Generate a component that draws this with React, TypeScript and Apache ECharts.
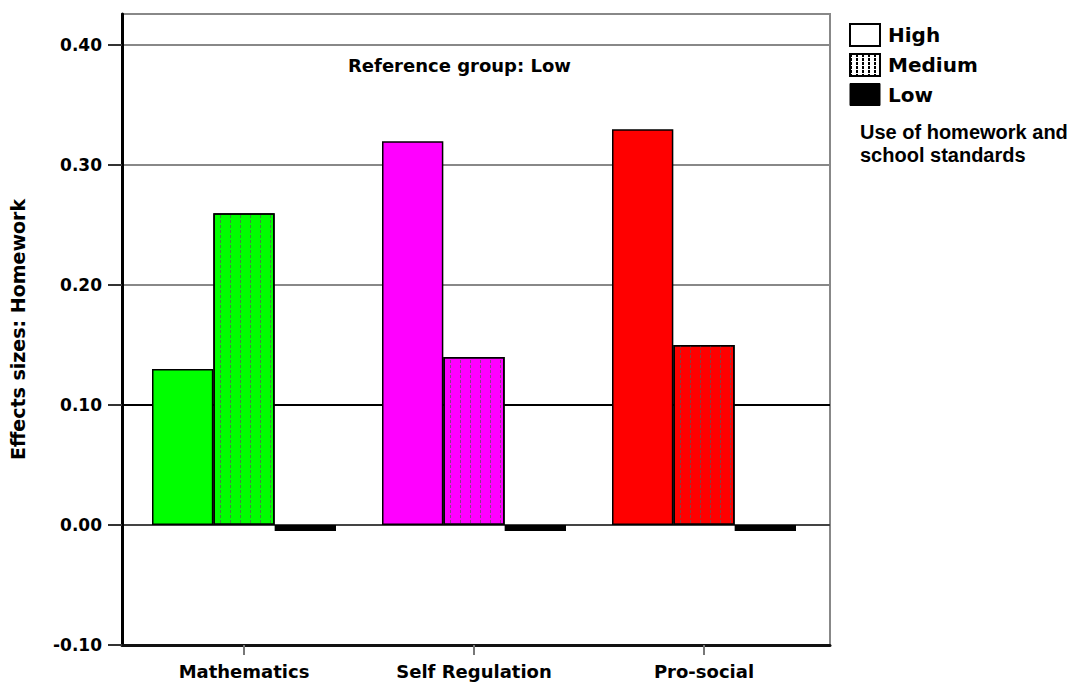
import React, { useEffect, useRef } from "react";
import * as echarts from "echarts";

const categories = ["Mathematics", "Self Regulation", "Pro-social"];
const highValues = [0.13, 0.32, 0.33];
const mediumValues = [0.26, 0.14, 0.15];
const lowValues = [-0.005, -0.005, -0.005];
const categoryColors = ["#00ff00", "#ff00ff", "#ff0000"];
const yTicks = [-0.1, 0, 0.1, 0.2, 0.3, 0.4];
const legendNames = ["High", "Medium", "Low"];
const yMin = -0.1;
const yMax = 0.426;

const bitmapFont = "DejaVu Sans";

const mediumDecal = {
  symbol: "rect",
  symbolSize: 1,
  color: "rgba(90,90,90,0.75)",
  dashArrayX: [1, 9],
  dashArrayY: [3, 2],
  rotation: 0,
};

export default function App() {
  const ref = useRef<HTMLDivElement>(null);
  useEffect(() => {
    if (!ref.current) return;
    const chart = echarts.init(ref.current, null, { renderer: "svg" });
    const isTick = (v: number) => yTicks.some((t) => Math.abs(t - v) < 1e-6);
    chart.setOption({
      animation: false,
      backgroundColor: "#fff",
      title: {
        text: "Reference group: Low",
        left: 348,
        top: 56,
        padding: 0,
        textStyle: { fontFamily: bitmapFont, fontWeight: "bold", fontSize: 18, color: "#000" },
      },
      legend: {
        orient: "vertical",
        left: 849,
        top: 23,
        padding: 0,
        itemWidth: 30,
        itemHeight: 22,
        itemGap: 6,
        icon: "rect",
        textStyle: {
          fontFamily: bitmapFont,
          fontWeight: "bold",
          fontSize: 20,
          color: "#000",
          padding: [0, 0, 0, 3],
        },
        data: [
          { name: legendNames[0], itemStyle: { color: "#fff", borderColor: "#000", borderWidth: 2 } },
          {
            name: legendNames[1],
            itemStyle: {
              color: "#fff",
              borderColor: "#000",
              borderWidth: 2,
              decal: { symbol: "rect", symbolSize: 1, color: "#000", dashArrayX: [2, 4], dashArrayY: [3, 1] },
            },
          },
          { name: legendNames[2], itemStyle: { color: "#000", borderColor: "#000", borderWidth: 1 } },
        ],
      },
      graphic: [
        {
          type: "text",
          left: 860,
          top: 120,
          style: {
            text: "Use of homework and\nschool standards",
            font: "bold 20px 'Liberation Sans', Arial, sans-serif",
            lineHeight: 23,
            fill: "#000",
          },
        },
      ],
      grid: [
        { left: 117, right: 253, top: 14, bottom: 37, show: true, borderColor: "#888", borderWidth: 2, backgroundColor: "#fff" },
        { left: 129, width: 690, top: 14, bottom: 37 },
      ],
      xAxis: [
        {
          type: "category",
          gridIndex: 0,
          data: categories,
          axisLine: { show: true, onZero: false, lineStyle: { color: "#111", width: 3 } },
          axisTick: { show: false },
          axisLabel: { show: false },
          splitLine: { show: false },
        },
        {
          type: "category",
          gridIndex: 1,
          data: categories,
          axisLine: { show: false, onZero: false },
          axisTick: { show: true, alignWithLabel: true, length: 10, lineStyle: { color: "#777", width: 2 } },
          axisLabel: {
            margin: 17,
            fontFamily: bitmapFont,
            fontWeight: "bold",
            fontSize: 18,
            color: "#000",
          },
        },
      ],
      yAxis: [
        {
          type: "value",
          gridIndex: 0,
          min: yMin,
          max: yMax,
          interval: 0.1,
          name: "Effects sizes: Homework",
          nameLocation: "middle",
          nameGap: 95,
          nameTextStyle: { fontFamily: bitmapFont, fontWeight: "bold", fontSize: 19, color: "#000" },
          axisLine: { show: true, lineStyle: { color: "#000", width: 3 } },
          axisTick: { show: true, length: 14, customValues: yTicks, lineStyle: { color: "#333", width: 2 } },
          axisLabel: {
            margin: 20,
            customValues: yTicks,
            formatter: (v: number) => (isTick(v) ? v.toFixed(2) : ""),
            fontFamily: bitmapFont,
            fontWeight: "bold",
            fontSize: 17,
            color: "#000",
          },
          splitLine: {
            show: true,
            lineStyle: {
              width: 2,
              color: ["#000", "#444", "#000", "#888", "#888", "#888", "#888"],
            },
          },
        },
        {
          type: "value",
          gridIndex: 1,
          min: yMin,
          max: yMax,
          interval: 0.1,
          show: false,
        },
      ],
      series: [
        {
          name: legendNames[0],
          type: "bar",
          xAxisIndex: 1,
          yAxisIndex: 1,
          barGap: "0%",
          barCategoryGap: "20%",
          itemStyle: { borderColor: "#000", borderWidth: 1.5 },
          data: highValues.map((v, i) => ({ value: v, itemStyle: { color: categoryColors[i] } })),
        },
        {
          name: legendNames[1],
          type: "bar",
          xAxisIndex: 1,
          yAxisIndex: 1,
          barGap: "0%",
          barCategoryGap: "20%",
          itemStyle: { borderColor: "#000", borderWidth: 1.5, decal: mediumDecal },
          data: mediumValues.map((v, i) => ({
            value: v,
            itemStyle: { color: categoryColors[i], decal: mediumDecal },
          })),
        },
        {
          name: legendNames[2],
          type: "bar",
          xAxisIndex: 1,
          yAxisIndex: 1,
          barGap: "0%",
          barCategoryGap: "20%",
          itemStyle: { color: "#000", borderColor: "#000", borderWidth: 1.5 },
          data: lowValues,
        },
      ],
    });
    return () => chart.dispose();
  }, []);
  return (
    <div
      ref={ref}
      style={{ position: "fixed", left: 0, top: 0, width: 1083, height: 682, background: "#fff" }}
    />
  );
}
